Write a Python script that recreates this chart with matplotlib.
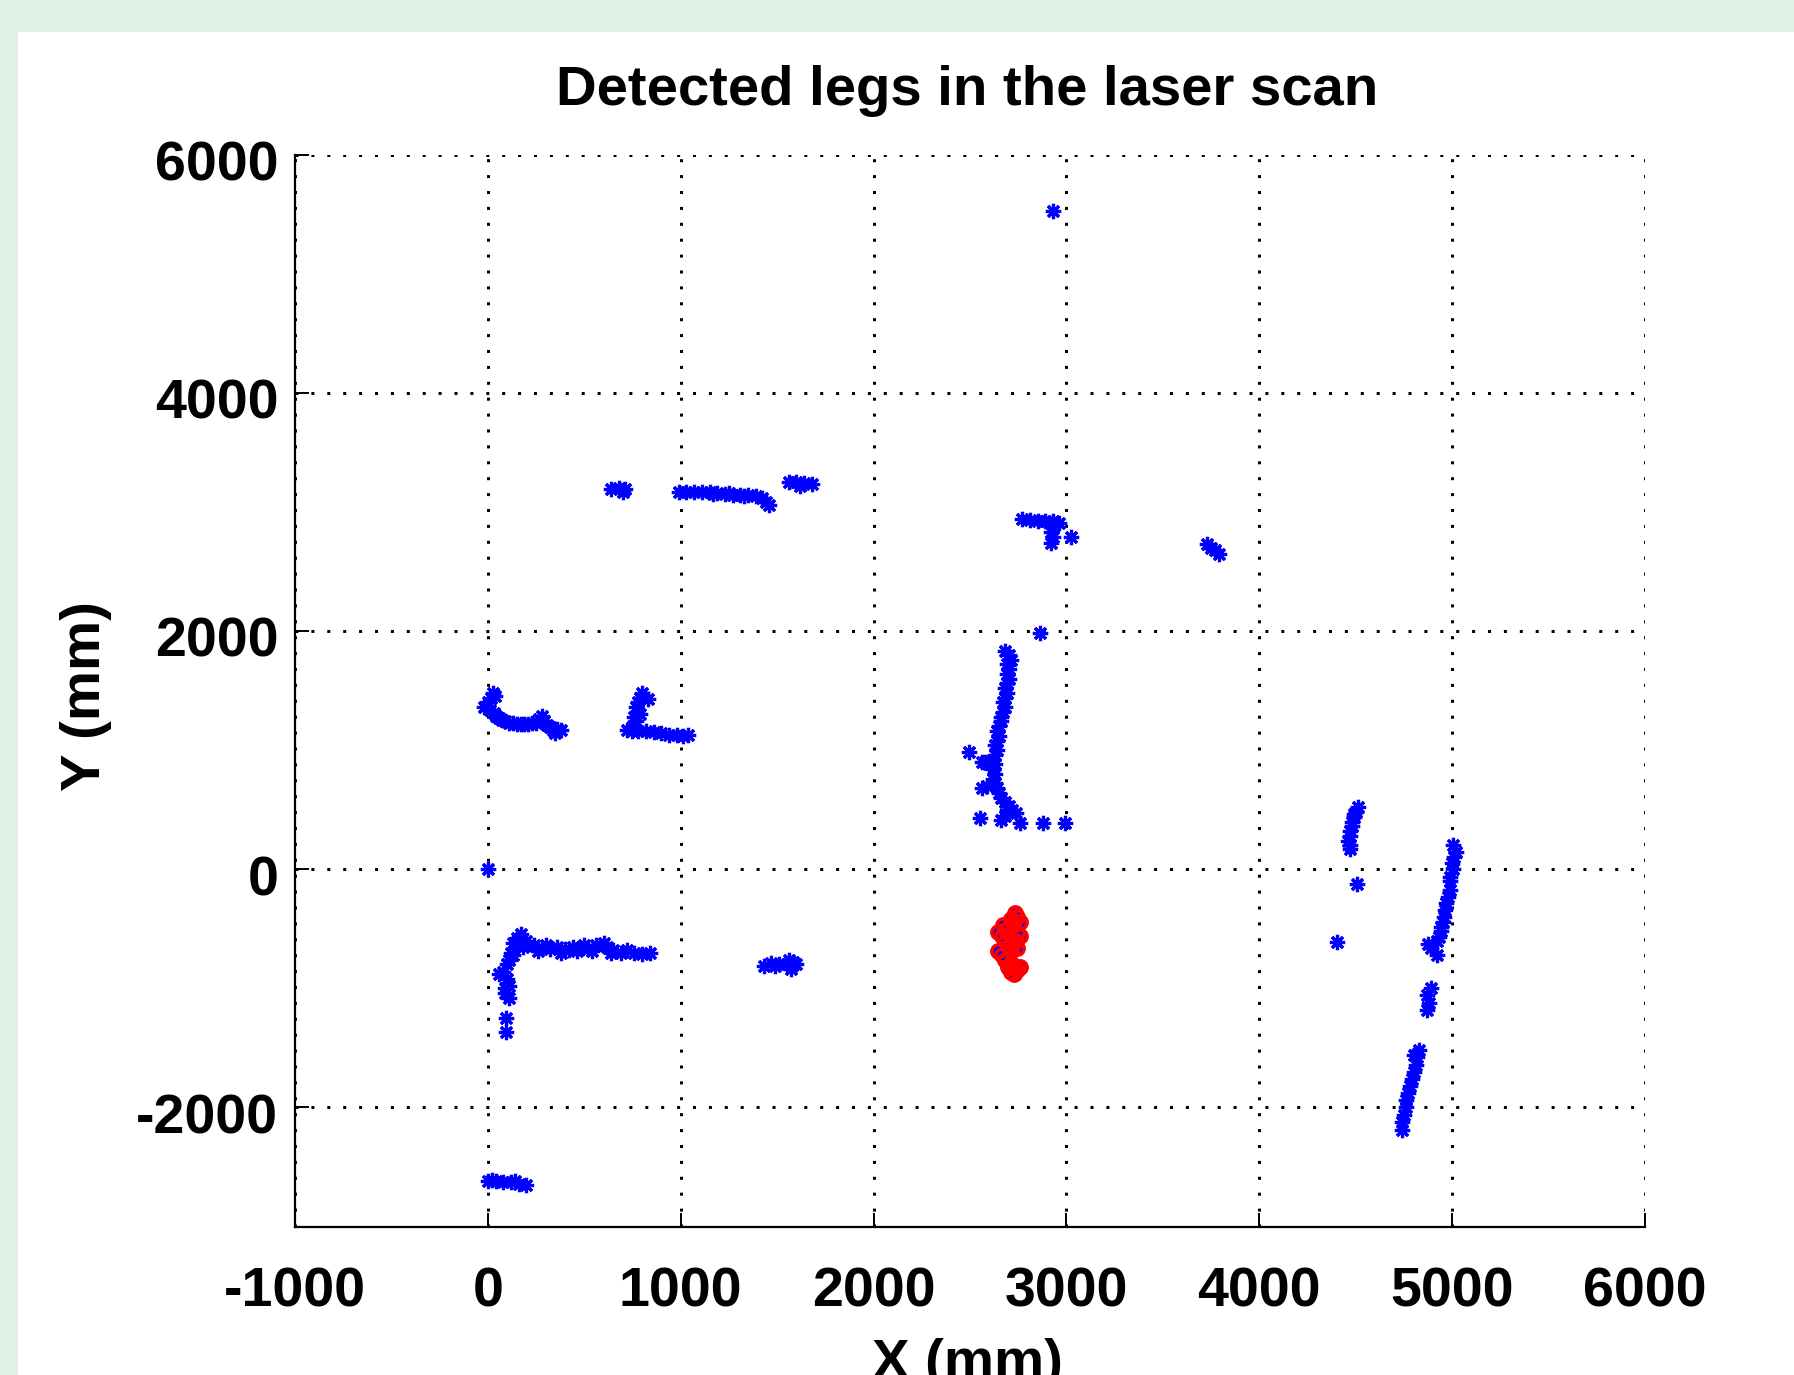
import matplotlib
matplotlib.use("Agg")
import matplotlib.pyplot as plt
import matplotlib.patches as patches
import matplotlib.transforms as mtransforms
import numpy as np

plt.rcParams['font.family'] = ['Liberation Sans', 'DejaVu Sans']

# laser scan points (mm), grouped by the blob they belong to
wall_left_upper = [(-20, 1360), (0, 1400), (15, 1440), (25, 1480), (35, 1450), (10, 1340), (30, 1310),
                   (45, 1290), (60, 1270), (75, 1255), (90, 1240), (110, 1230), (130, 1225), (150, 1220),
                   (170, 1220), (190, 1220), (210, 1220), (230, 1225), (250, 1230), (265, 1260), (280, 1290),
                   (290, 1240), (305, 1210), (320, 1190), (340, 1170), (360, 1180), (380, 1170), (350, 1140)]
wall_left_l = [(800, 1480), (790, 1440), (780, 1400), (770, 1360), (775, 1320), (760, 1280), (770, 1240),
               (755, 1200), (720, 1170), (745, 1160), (780, 1160), (820, 1160), (860, 1150), (900, 1140),
               (940, 1130), (980, 1130), (1010, 1120), (1040, 1130), (830, 1430), (790, 1300)]
origin_pt = [(0, 0)]
wall_left_lower = [(170, -540), (150, -580), (200, -600), (130, -620), (240, -640), (280, -660), (320, -670),
                   (360, -650), (400, -670), (440, -650), (480, -660), (520, -670), (560, -640), (600, -620),
                   (620, -650), (650, -680), (690, -700), (720, -680), (760, -700), (800, -710), (840, -700),
                   (260, -690), (380, -700), (460, -690), (540, -690), (640, -700), (180, -650), (300, -640),
                   (420, -680), (500, -640), (120, -700), (110, -760), (100, -800), (80, -860), (60, -880),
                   (100, -920), (110, -980), (90, -1040), (110, -1080), (130, -720), (90, -1000),
                   (96, -1250), (96, -1370)]
wall_bottom = [(0, -2620), (40, -2620), (80, -2630), (120, -2630), (160, -2640), (200, -2650), (20, -2610),
               (140, -2620)]
blob_mid = [(1430, -810), (1470, -790), (1510, -800), (1550, -800), (1580, -780), (1600, -800), (1560, -760),
            (1570, -840), (1490, -810)]
wall_center = [(2680, 1830), (2700, 1800), (2710, 1760), (2690, 1720), (2700, 1680), (2690, 1640),
               (2700, 1600), (2690, 1560), (2680, 1520), (2690, 1480), (2680, 1440), (2670, 1400),
               (2680, 1360), (2670, 1320), (2660, 1280), (2660, 1240), (2650, 1200), (2640, 1160),
               (2650, 1120), (2640, 1080), (2630, 1040), (2640, 1000), (2630, 960), (2620, 920),
               (2630, 880), (2620, 840), (2630, 800), (2620, 760), (2630, 720), (2640, 680), (2650, 640),
               (2660, 600), (2680, 560), (2700, 530), (2720, 500), (2740, 470), (2600, 880), (2580, 900),
               (2560, 680), (2590, 700), (2495, 986), (2560, 902), (2551, 427), (2663, 412), (2758, 385),
               (2876, 390), (2995, 390), (2862, 1980), (2680, 450), (2690, 500)]
wall_top = [(640, 3190), (680, 3200), (710, 3190), (700, 3170),
            (990, 3170), (1030, 3170), (1070, 3170), (1110, 3165), (1150, 3165), (1190, 3160), (1230, 3150),
            (1270, 3140), (1310, 3140), (1350, 3140), (1390, 3130), (1420, 3120), (1440, 3080), (1460, 3060),
            (1170, 3150), (1250, 3160), (1330, 3130),
            (1560, 3250), (1600, 3250), (1640, 3240), (1680, 3230), (1620, 3220)]
wall_top_right = [(2770, 2940), (2810, 2930), (2850, 2920), (2890, 2920), (2930, 2920), (2960, 2910),
                  (2930, 2870), (2920, 2830), (2930, 2790), (2920, 2740), (3026, 2786),
                  (3730, 2730), (3750, 2700), (3770, 2680), (3790, 2650), (2930, 5530)]
wall_right = [(4510, 520), (4500, 480), (4490, 440), (4480, 400), (4480, 360), (4470, 320), (4470, 280),
              (4460, 240), (4470, 200), (4470, 170), (4490, 460), (4507, -125), (4405, -610),
              (5005, 203), (5022, 146), (5010, 100), (5000, 50), (5005, -2), (4987, -64), (4990, -100),
              (4987, -176), (4980, -230), (4970, -288), (4960, -340), (4956, -400), (4950, -440),
              (4944, -484), (4940, -520), (4932, -568), (4920, -600), (4890, -660), (4875, -629),
              (4922, -721), (4890, -1000), (4870, -1060), (4880, -1120), (4870, -1180),
              (4830, -1520), (4820, -1580), (4810, -1640), (4800, -1700), (4790, -1760), (4780, -1820),
              (4770, -1880), (4760, -1940), (4760, -2000), (4750, -2060), (4740, -2120), (4740, -2190),
              (4800, -1560)]
legs = [(2732, -366), (2745, -400), (2760, -440), (2713, -421), (2725, -460), (2672, -470), (2680, -510),
        (2645, -531), (2665, -560), (2744, -531), (2760, -560), (2740, -600), (2715, -610), (2700, -650),
        (2715, -690), (2744, -665), (2645, -688), (2665, -720), (2680, -760), (2697, -825), (2713, -790),
        (2730, -825), (2760, -825), (2715, -860), (2744, -847), (2727, -881)]

xticks = [-1000, 0, 1000, 2000, 3000, 4000, 5000, 6000]
yticks = [-2000, 0, 2000, 4000, 6000]

scan = np.array(wall_left_upper + wall_left_l + origin_pt + wall_left_lower + wall_bottom + blob_mid
                + wall_center + wall_top + wall_top_right + wall_right + legs)
legs = np.array(legs)

fig = plt.figure(figsize=(17.94, 13.75), dpi=100, facecolor='#e1f0e6')
# white figure panel inside the light green window
fig.patches.append(patches.Rectangle((18 / 1794, 0), 1, 1 - 32 / 1375, transform=fig.transFigure,
                                     facecolor='white', edgecolor='none', zorder=-10))

ax = fig.add_axes([0.1644, 0.108, 0.7526, 0.7796])
ax.set_facecolor('none')
ax.plot(scan[:, 0], scan[:, 1], linestyle='none', marker=(8, 2, 0), color='#0000ff',
        markersize=11, markeredgewidth=2.3)
ax.plot(legs[:, 0], legs[:, 1], linestyle='none', marker='o', markerfacecolor='none',
        markeredgecolor='#ff0000', markersize=9.5, markeredgewidth=2.6)

ax.set_xlim(-1000, 6000)
ax.set_ylim(-3000, 6000)
ax.set_xticks(xticks)
ax.set_yticks(yticks)
ax.set_xticklabels([str(v) for v in xticks])
ax.set_yticklabels([str(v) for v in yticks])
ax.tick_params(direction='in', length=10, width=1.4, labelsize=40)
ax.tick_params(axis='x', pad=29)
ax.tick_params(axis='y', pad=12)
shift = mtransforms.ScaledTranslation(0, -0.06, fig.dpi_scale_trans)
for lab in ax.get_yticklabels():
    lab.set_transform(lab.get_transform() + shift)
for lab in ax.get_xticklabels() + ax.get_yticklabels():
    lab.set_fontweight('bold')
ax.spines['top'].set_visible(False)
ax.spines['right'].set_visible(False)
ax.spines['left'].set_linewidth(1.6)
ax.spines['bottom'].set_linewidth(1.6)
ax.grid(True, color='black', linewidth=2.16, linestyle=(0, (1, 4.3)))
ax.set_axisbelow(True)

fig.text(967 / 1794, 1 - 105 / 1375, 'Detected legs in the laser scan', ha='center', va='baseline',
         fontsize=40.5, fontweight='bold')
fig.text(967 / 1794, 1 - 1378 / 1375, 'X (mm)', ha='center', va='baseline', fontsize=40.5, fontweight='bold')
fig.text(86 / 1794, 1 - 696 / 1375, 'Y (mm)', ha='center', va='center', rotation=90, fontsize=40.5,
         fontweight='bold')

fig.savefig('out.png', dpi=100, facecolor=fig.get_facecolor())
